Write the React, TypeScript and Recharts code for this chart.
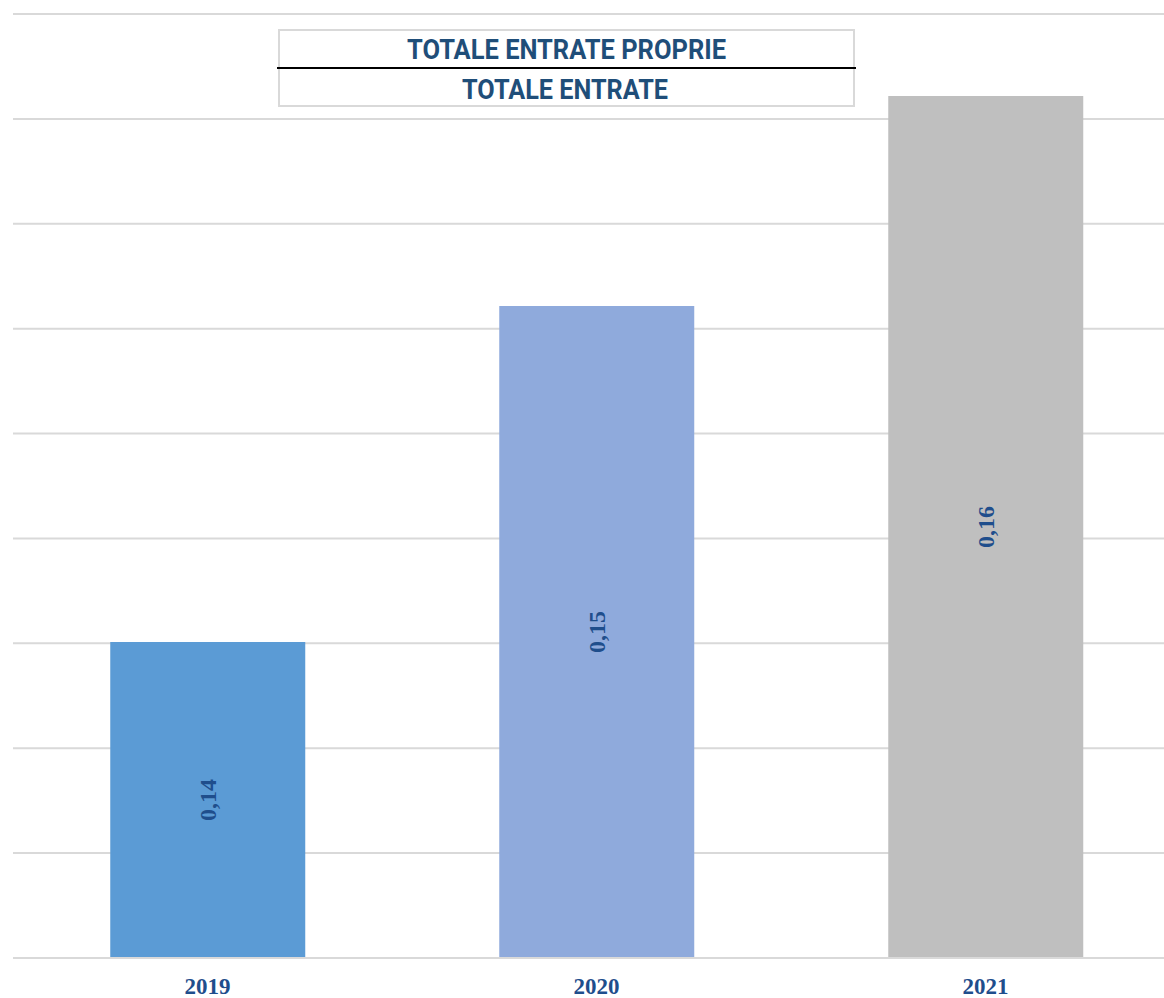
import React from "react";
import { BarChart, Bar, XAxis, YAxis, CartesianGrid, LabelList, Cell } from "recharts";

const years = ["2019", "2020", "2021"];
const ratios = [0.14253, 0.15054, 0.155545];
const barColors = ["#5B9BD5", "#8FAADC", "#BFBFBF"];
const yTicks = [0.135, 0.1375, 0.14, 0.1425, 0.145, 0.1475, 0.15, 0.1525, 0.155, 0.1575];
const titleTop = "TOTALE ENTRATE PROPRIE";
const titleBottom = "TOTALE ENTRATE";

const data = years.map((y, i) => ({ year: y, value: ratios[i] }));

const labelColor = "#1F4E8C";
const serif = "'Liberation Serif', 'Times New Roman', serif";
const narrow = "'Liberation Sans Narrow', 'Roboto', 'Liberation Sans', sans-serif";

const fmt = (v: any) => Number(v).toFixed(2).replace(".", ",");

const YearTick = (props: any) => {
  const { x, y, payload } = props;
  return (
    <text
      x={x}
      y={y + 36}
      textAnchor="middle"
      fill={labelColor}
      fontFamily={serif}
      fontWeight="bold"
      fontSize={23}
    >
      {payload.value}
    </text>
  );
};

const ValueLabel = (props: any) => {
  const { x, y, width, height, value } = props;
  const cx = x + width / 2;
  const cy = y + height / 2;
  return (
    <text
      x={cx}
      y={cy}
      transform={`rotate(-90 ${cx} ${cy})`}
      textAnchor="middle"
      dominantBaseline="central"
      fill={labelColor}
      fontFamily={serif}
      fontWeight="bold"
      fontSize={24}
    >
      {fmt(value)}
    </text>
  );
};

export default function App() {
  return (
    <div
      style={{
        position: "fixed",
        left: 0,
        top: 0,
        width: 1164,
        height: 998,
        overflow: "hidden",
        background: "#fff",
      }}
    >
      <BarChart
        width={1190}
        height={998}
        data={data}
        margin={{ top: 14, right: 10, bottom: 0, left: 13 }}
        barCategoryGap="25%"
      >
        <CartesianGrid vertical={false} stroke="#D9D9D9" strokeWidth={2} />
        <YAxis hide domain={[yTicks[0], yTicks[yTicks.length - 1]]} ticks={yTicks} type="number" allowDataOverflow />
        <XAxis
          dataKey="year"
          height={40}
          tickLine={false}
          tickSize={0}
          tickMargin={0}
          axisLine={{ stroke: "#D9D9D9", strokeWidth: 2 }}
          tick={<YearTick />}
          interval={0}
        />
        <Bar dataKey="value" isAnimationActive={false}>
          {data.map((d, i) => (
            <Cell key={d.year} fill={barColors[i]} />
          ))}
          <LabelList dataKey="value" content={<ValueLabel />} />
        </Bar>
      </BarChart>
      <svg
        width={1164}
        height={998}
        style={{ position: "absolute", left: 0, top: 0, pointerEvents: "none" }}
      >
        <rect x={279} y={30} width={575} height={76} fill="#fff" stroke="#D9D9D9" strokeWidth={2} />
        <line x1={277} x2={856} y1={68} y2={68} stroke="#000" strokeWidth={2} />
        <text
          x={566.5}
          y={59}
          textAnchor="middle"
          fill="#1F4E79"
          fontFamily={narrow}
          fontWeight="bold"
          fontSize={27}
          textLength={319}
          lengthAdjust="spacingAndGlyphs"
        >
          {titleTop}
        </text>
        <text
          x={565}
          y={99}
          textAnchor="middle"
          fill="#1F4E79"
          fontFamily={narrow}
          fontWeight="bold"
          fontSize={27}
          textLength={206}
          lengthAdjust="spacingAndGlyphs"
        >
          {titleBottom}
        </text>
      </svg>
    </div>
  );
}
